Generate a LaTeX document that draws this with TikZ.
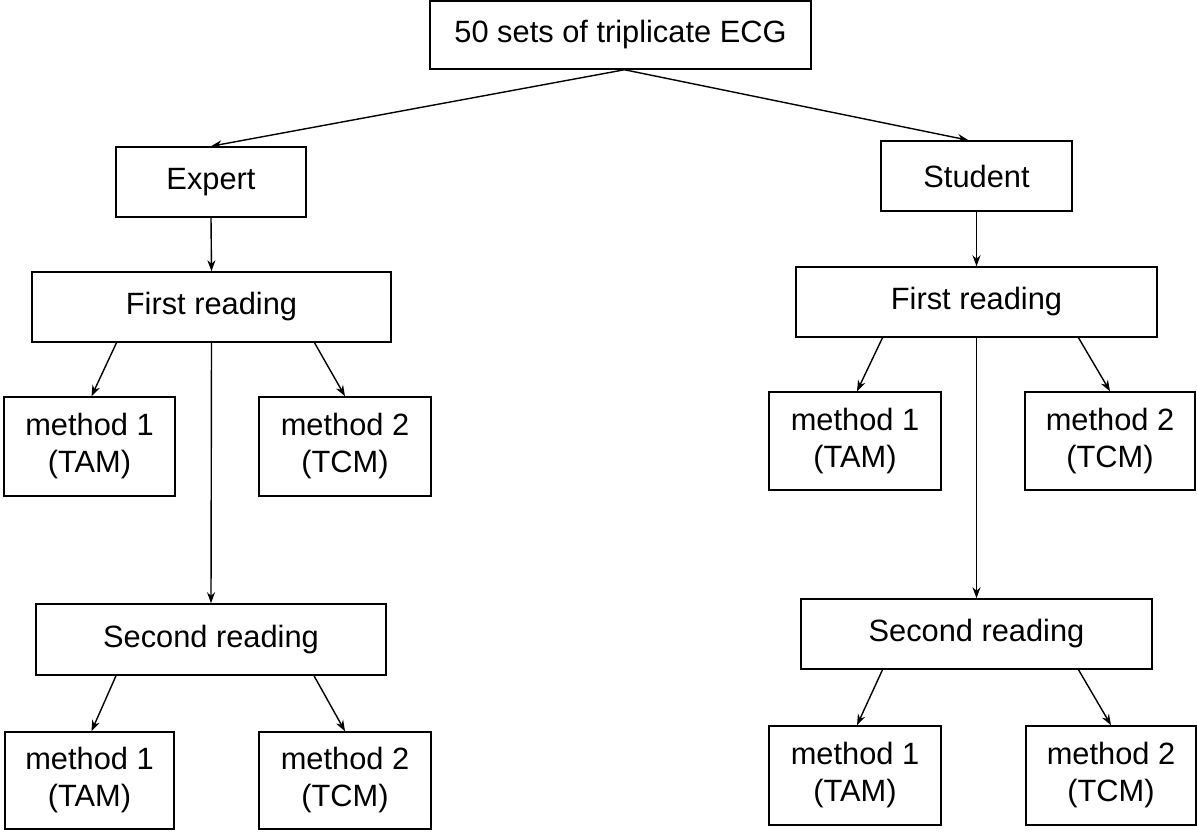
\documentclass[tikz,border=0pt]{standalone}
\usepackage{fontspec}
\setmainfont{Liberation Sans}
\usepackage{tikz}
\usetikzlibrary{arrows.meta}

\begin{document}
\begin{tikzpicture}[x=1pt,y=-1pt,line width=1.5pt,
  box/.style={draw,rectangle,inner sep=0pt,align=center,font=\fontsize{30.8}{37}\selectfont},
  arr/.style={-{Stealth[length=11pt,width=8pt]},line width=1.4pt}]
  \useasboundingbox (0,0) rectangle (1197,832);
  \node[box,minimum width=381,minimum height=68](top) at (620.5,35) {50 sets of triplicate ECG};
  \node[box,minimum width=190,minimum height=70](expert) at (211,182) {Expert};
  \node[box,minimum width=191,minimum height=70](student) at (976.5,176) {Student};
  \node[box,minimum width=359,minimum height=70](efirst) at (211.5,307) {First reading};
  \node[box,minimum width=361,minimum height=70](sfirst) at (976.5,302) {First reading};
  \node[box,minimum width=171,minimum height=99](emone) at (89.5,446.5) {method 1\\(TAM)};
  \node[box,minimum width=172,minimum height=99](emtwo) at (345,446.5) {method 2\\(TCM)};
  \node[box,minimum width=172,minimum height=98](smone) at (855,441) {method 1\\(TAM)};
  \node[box,minimum width=170,minimum height=98](smtwo) at (1110,441) {method 2\\(TCM)};
  \node[box,minimum width=350,minimum height=71](esecond) at (211,639.5) {Second reading};
  \node[box,minimum width=351,minimum height=70](ssecond) at (976.5,634) {Second reading};
  \node[box,minimum width=169,minimum height=97](emoneb) at (89.5,780.5) {method 1\\(TAM)};
  \node[box,minimum width=172,minimum height=97](emtwob) at (345,780.5) {method 2\\(TCM)};
  \node[box,minimum width=172,minimum height=99](smoneb) at (855,775.5) {method 1\\(TAM)};
  \node[box,minimum width=170,minimum height=99](smtwob) at (1111,775.5) {method 2\\(TCM)};
  \draw[arr]([xshift=4pt]top.south)--(expert.north);
  \draw[arr]([xshift=4pt]top.south)--([xshift=-8pt]student.north);
  \draw[arr](expert.south)--(efirst.north);
  \draw[arr](student.south)--(sfirst.north);
  \draw[arr](efirst.south)--(esecond.north);
  \draw[arr](sfirst.south)--(ssecond.north);
  \draw[arr]([xshift=-95pt]efirst.south)--([xshift=2pt]emone.north);
  \draw[arr]([xshift=103pt]efirst.south)--(emtwo.north);
  \draw[arr]([xshift=-94pt]sfirst.south)--([xshift=2pt]smone.north);
  \draw[arr]([xshift=102pt]sfirst.south)--(smtwo.north);
  \draw[arr]([xshift=-95pt]esecond.south)--([xshift=2pt]emoneb.north);
  \draw[arr]([xshift=103pt]esecond.south)--(emtwob.north);
  \draw[arr]([xshift=-94pt]ssecond.south)--([xshift=2pt]smoneb.north);
  \draw[arr]([xshift=102pt]ssecond.south)--(smtwob.north);
\end{tikzpicture}
\end{document}
